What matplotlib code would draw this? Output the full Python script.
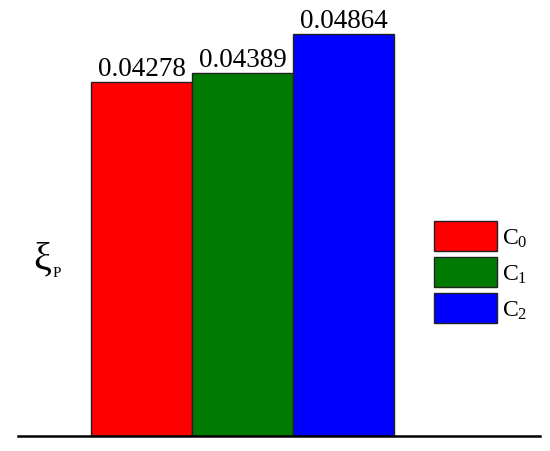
import matplotlib
matplotlib.use("Agg")
import matplotlib.pyplot as plt

plt.rcParams['font.family'] = ['Liberation Serif', 'DejaVu Serif']
plt.rcParams['mathtext.fontset'] = 'custom'
plt.rcParams['mathtext.rm'] = 'Liberation Serif'
plt.rcParams['mathtext.it'] = 'Liberation Serif'

categories = ['C$_0$', 'C$_1$', 'C$_2$']
values = [0.04278, 0.04389, 0.04864]
value_labels = ['0.04278', '0.04389', '0.04864']
colors = ['#ff0000', '#007a00', '#0000ff']
ylabel_main = 'ξ'
ylabel_sub = 'P'

fig = plt.figure(figsize=(5.5, 4.52), dpi=100)
ax = fig.add_axes([18/550, (452-437)/452, 522/550, 437/452])

x = list(range(len(values)))
bars = ax.bar(x, values, width=1.0, color=colors, edgecolor='#222222',
              linewidth=1.0, label=categories)
ax.bar_label(bars, labels=value_labels, padding=1, fontsize=19.5)

ax.set_xlim(-1.223, 3.946)
ax.set_ylim(0, 0.05287)
for s in ['top', 'right', 'left']:
    ax.spines[s].set_visible(False)
ax.spines['bottom'].set_linewidth(1.8)
ax.set_xticks([])
ax.set_yticks([])

ax.text(0.047, 0.405, ylabel_main, transform=ax.transAxes, fontsize=29,
        ha='center', va='center')
ax.text(0.067, 0.366, ylabel_sub, transform=ax.transAxes, fontsize=11,
        ha='left', va='baseline')

leg = ax.legend(loc='upper left', bbox_to_anchor=(0.797, 0.492), frameon=False,
                fontsize=17, handlelength=2.67, handleheight=1.58,
                labelspacing=0.26, handletextpad=0.2, borderpad=0,
                borderaxespad=0)

fig.savefig('out.png', dpi=100)
